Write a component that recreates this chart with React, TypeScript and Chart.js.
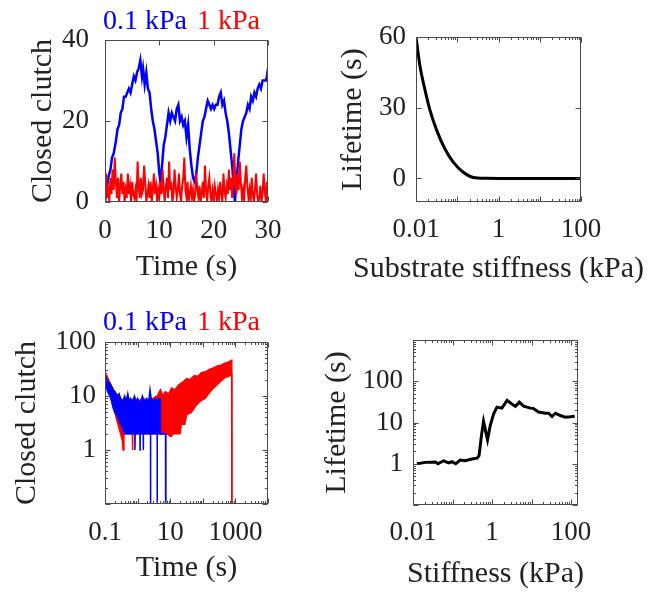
import React, { useEffect, useRef } from 'react';
import { Chart, registerables } from 'chart.js';

Chart.register(...registerables);

const W = 654;
const H = 597;
const FONT = "'Liberation Serif', 'Times New Roman', Times, serif";
const TEXT = '#222222';
const FRAME = '#4a4a4a';
const BLUE = '#0000ff';
const RED = '#ff0000';
const BLACK = '#000000';
const TICK_SIZE = 27;
const TITLE_SIZE = 30;
const HEAD_SIZE = 28;

// ---------- labels ----------
const LABEL_LOW = '0.1 kPa';
const LABEL_HIGH = '1 kPa';
const TITLE_CLUTCH = 'Closed clutch';
const TITLE_TIME = 'Time (s)';
const TITLE_LIFETIME = 'Lifetime (s)';
const TITLE_SUBSTRATE = 'Substrate stiffness (kPa)';
const TITLE_STIFF = 'Stiffness (kPa)';

// ---------- panel A: closed clutches vs time (linear) ----------
const A_X_TICKS = [0, 10, 20, 30];
const A_Y_TICKS = [0, 20, 40];
const A_BLUE_T = [0, 0.3, 0.6, 1.0, 1.3, 1.6, 2.0, 2.3, 2.6, 2.9, 3.2, 3.5, 3.8, 4.1, 4.4, 4.7, 5.0, 5.3, 5.6, 5.9, 6.2, 6.5, 6.8, 7.0, 7.3, 7.6, 7.9, 8.2, 8.5, 8.8, 9.1, 9.4, 9.7, 10.0, 10.2, 10.5, 10.8, 11.1, 11.4, 11.7, 12.0, 12.3, 12.6, 12.9, 13.2, 13.5, 13.8, 14.1, 14.4, 14.7, 15.0, 15.3, 15.6, 15.9, 16.2, 16.5, 16.8, 17.1, 17.4, 17.7, 18.0, 18.3, 18.6, 18.9, 19.2, 19.5, 19.8, 20.1, 20.4, 20.7, 21.0, 21.3, 21.6, 21.9, 22.2, 22.5, 22.8, 23.1, 23.4, 23.7, 23.9, 24.2, 24.5, 24.8, 25.1, 25.4, 25.7, 26.0, 26.3, 26.6, 26.9, 27.2, 27.5, 27.8, 28.1, 28.4, 28.7, 29.0, 29.3, 29.6, 29.8, 30.0];
const A_BLUE_Y = [0, 3, 6, 8, 11, 12, 15, 18, 19, 22, 23, 26, 26, 27, 28, 27, 29, 31, 30, 32, 33, 35, 31, 33, 29, 32, 28, 27, 23, 20, 18, 15, 12, 7, 5, 9, 14, 16, 19, 22, 20, 22, 21, 20, 23, 24, 20, 21, 19, 20, 16, 19, 13, 9, 6, 5, 7, 11, 14, 17, 20, 21, 23, 25, 24, 23, 24, 23, 24, 24, 26, 27, 24, 25, 22, 20, 17, 13, 9, 4, 0, 5, 10, 14, 18, 20, 21, 22, 24, 23, 26, 25, 27, 26, 28, 29, 28, 30, 30, 30, 31, 33];
const A_RED_DT = 0.2;
const A_RED_Y = [2, 7, 1, 4, 0, 6, 2, 8, 3, 11, 5, 1, 6, 0, 4, 7, 2, 5, 0, 3, 1, 7, 2, 4, 0, 5, 2, 1, 3, 0, 10, 4, 1, 6, 2, 3, 9, 5, 0, 2, 4, 1, 5, 0, 3, 7, 2, 4, 0, 3, 1, 5, 2, 8, 3, 0, 4, 6, 1, 10, 3, 5, 0, 2, 8, 4, 1, 3, 7, 2, 0, 4, 6, 11, 3, 1, 5, 0, 2, 4, 1, 3, 0, 2, 7, 3, 1, 4, 0, 2, 5, 1, 9, 3, 0, 4, 6, 2, 0, 3, 1, 4, 2, 0, 3, 1, 5, 2, 0, 7, 3, 1, 4, 2, 8, 3, 6, 1, 5, 12, 4, 2, 7, 3, 10, 5, 1, 3, 0, 6, 9, 4, 1, 3, 0, 6, 2, 0, 3, 7, 2, 0, 1, 4, 0, 2, 7, 3, 0, 5, 1];

// ---------- panel B: lifetime vs substrate stiffness ----------
const B_X_TICKS = [0.01, 1, 100];
const B_Y_TICKS = [0, 30, 60];
const B_X = [0.01, 0.0125, 0.0165, 0.0218, 0.0318, 0.05, 0.08, 0.14, 0.245, 0.5, 1, 10, 100];
const B_Y = [60, 47.6, 37.6, 29, 20.4, 12.6, 6.9, 2.6, 0.4, 0.05, 0, 0, 0];

// ---------- panel C: closed clutches vs time (log-log) ----------
const C_X_TICKS = [0.1, 10, 1000];
const C_Y_TICKS = [1, 10, 100];
const C_BLUE_UP_X = [0.1, 0.11, 0.12, 0.14, 0.16, 0.18, 0.2, 0.23, 0.27, 0.3, 0.35, 0.4, 0.45, 0.5, 0.55, 0.6, 0.7, 0.8, 0.9, 1.0, 1.2, 1.4, 1.6, 1.9, 2.2, 2.4, 2.6, 3.0, 3.5, 4.0, 4.6, 4.9, 5.0, 7.25, 7.26];
const C_BLUE_UP_Y = [24, 22, 19, 17, 15, 13, 12, 10, 11, 9, 8, 10, 8, 11, 8, 9, 8, 10, 8, 9, 7, 10, 8, 9, 8, 13, 9, 8, 9, 8, 9, 9, 2, 2, 0.1];
const C_BLUE_LO_X = [0.1, 0.11, 0.12, 0.14, 0.16, 0.18, 0.2, 0.23, 0.27, 0.3, 0.35, 0.4, 0.5, 0.6, 0.82, 0.83, 0.84, 1.18, 1.19, 1.2, 1.49, 1.5, 1.51, 2.49, 2.5, 2.51, 3.99, 4.0, 4.01, 4.9, 5.0, 7.25, 7.26];
const C_BLUE_LO_Y = [17, 15, 12, 10, 8, 6, 5, 4.5, 3.5, 3, 2.5, 2, 2, 2, 2, 1, 2, 2, 1, 2, 2, 1, 2, 2, 0.1, 2, 2, 0.1, 2, 2, 2, 2, 0.1];
const C_RED_UP_X = [0.1, 0.11, 0.12, 0.14, 0.16, 0.18, 0.2, 0.25, 0.3, 0.35, 0.45, 0.6, 0.8, 1, 1.5, 2, 3, 4, 5, 6, 7, 9, 11, 14, 18, 24, 32, 40, 55, 70, 90, 120, 160, 210, 280, 360, 450, 560, 680, 770, 775];
const C_RED_UP_Y = [28, 25, 22, 18, 15, 13, 12, 10, 9, 8, 9, 8, 9, 8, 9, 8, 9, 10, 13, 10, 12, 11, 14, 13, 16, 18, 21, 20, 24, 23, 27, 28, 31, 33, 36, 37, 40, 42, 44, 46, 0.1];
const C_RED_LO_X = [0.1, 0.11, 0.12, 0.14, 0.16, 0.18, 0.2, 0.25, 0.3, 0.34, 0.36, 0.38, 0.5, 0.69, 0.7, 0.71, 1, 2, 3, 5, 8, 10, 11, 12, 16, 20, 22, 28, 32, 45, 60, 82, 117, 150, 210, 300, 400, 480, 600, 700, 770, 775];
const C_RED_LO_Y = [21, 18, 15, 11, 8, 6, 5, 3, 2, 1.5, 1, 2, 2, 2, 1, 2, 2, 2, 2, 2, 2, 1.8, 1.8, 2, 2, 2, 3, 3, 4.5, 5, 6.5, 8, 9, 11, 14, 17, 20, 22, 23, 24, 25, 0.1];

// ---------- panel D: lifetime vs stiffness (log-log) ----------
const D_X_TICKS = [0.01, 1, 100];
const D_Y_TICKS = [1, 10, 100];
const D_X = [0.0126, 0.0205, 0.037, 0.043, 0.059, 0.08, 0.097, 0.12, 0.157, 0.21, 0.31, 0.42, 0.47, 0.54, 0.61, 0.67, 0.77, 0.9, 1.1, 1.33, 1.78, 2.4, 3.1, 3.9, 4.9, 6.3, 9.3, 11, 15, 22.5, 27, 33, 40, 53, 72, 96, 124];
const D_Y = [1.0, 1.08, 1.1, 1.0, 1.18, 1.05, 1.12, 1.0, 1.23, 1.18, 1.3, 1.37, 1.57, 4.8, 10.6, 7, 3.8, 8.4, 16.3, 23.6, 22.3, 34.5, 28.6, 24.6, 31.2, 25, 22.3, 22, 17.9, 16.8, 16.8, 14, 16.8, 14.8, 13.5, 13.8, 14.2];

// ---------- helpers ----------
const pts = (xs: number[], ys: number[]) => xs.map((x, i) => ({ x, y: ys[i] }));

const framePlugin = {
  id: 'matlabFrame',
  afterDatasetsDraw(chart: any) {
    const { ctx, chartArea: a } = chart;
    const xs = chart.scales.x;
    const ys = chart.scales.y;
    const L = Math.round(a.left) + 0.5;
    const R = Math.round(a.right) - 0.5;
    const T = Math.round(a.top) + 0.5;
    const B = Math.round(a.bottom) - 0.5;
    const marks = (scale: any) => {
      const res: { v: number; len: number }[] = [];
      if (scale.type === 'logarithmic') {
        const lo = Math.floor(Math.log10(scale.min));
        const hi = Math.ceil(Math.log10(scale.max));
        for (let e = lo; e <= hi; e++) {
          for (let k = 1; k <= 9; k++) {
            const v = k * Math.pow(10, e);
            if (v >= scale.min * 0.999 && v <= scale.max * 1.001) res.push({ v, len: k === 1 ? 5 : 2.5 });
          }
        }
      } else {
        scale.ticks.forEach((t: any) => res.push({ v: t.value, len: 5 }));
      }
      return res;
    };
    ctx.save();
    ctx.strokeStyle = FRAME;
    ctx.lineWidth = 1;
    ctx.beginPath();
    for (const m of marks(xs)) {
      const p = Math.round(xs.getPixelForValue(m.v)) + 0.5;
      ctx.moveTo(p, B); ctx.lineTo(p, B - m.len);
      ctx.moveTo(p, T); ctx.lineTo(p, T + m.len);
    }
    for (const m of marks(ys)) {
      const p = Math.round(ys.getPixelForValue(m.v)) + 0.5;
      ctx.moveTo(L, p); ctx.lineTo(L + m.len, p);
      ctx.moveTo(R, p); ctx.lineTo(R - m.len, p);
    }
    ctx.stroke();
    ctx.strokeRect(L, T, R - L, B - T);
    ctx.restore();
  },
};

// axis titles drawn without width squeezing (MATLAB titles may overhang the axes box)
const makeTitles = (xText: string, xTitleY: number, yText: string, yTitleX: number) => ({
  id: 'axisTitles',
  afterDraw(chart: any) {
    const { ctx, chartArea: a } = chart;
    ctx.save();
    ctx.font = `${TITLE_SIZE}px ${FONT}`;
    ctx.fillStyle = TEXT;
    ctx.textAlign = 'center';
    ctx.textBaseline = 'middle';
    ctx.fillText(xText, (a.left + a.right) / 2, xTitleY);
    ctx.translate(yTitleX, (a.top + a.bottom) / 2);
    ctx.rotate(-Math.PI / 2);
    ctx.fillText(yText, 0, 0);
    ctx.restore();
  },
});

const makeHeader = (x: number, y: number) => ({
  id: 'kpaHeader',
  afterDraw(chart: any) {
    const ctx = chart.ctx;
    ctx.save();
    ctx.font = `${HEAD_SIZE}px ${FONT}`;
    ctx.textBaseline = 'middle';
    ctx.textAlign = 'left';
    ctx.fillStyle = BLUE;
    ctx.fillText(LABEL_LOW, x, y);
    const w = ctx.measureText(LABEL_LOW).width;
    ctx.fillStyle = RED;
    ctx.fillText(LABEL_HIGH, x + w + 10, y);
    ctx.restore();
  },
});

type AxisSpec = {
  type: 'linear' | 'logarithmic';
  min: number;
  max: number;
  ticks: number[];
  tickPad: number;
  size: number;
};

const axis = (s: AxisSpec, horizontal: boolean) => ({
  type: s.type,
  position: horizontal ? 'bottom' : 'left',
  min: s.min,
  max: s.max,
  grid: { display: false, drawTicks: false },
  border: { display: false },
  ticks: {
    color: TEXT,
    font: { family: FONT, size: TICK_SIZE },
    padding: s.tickPad,
    autoSkip: false,
    maxRotation: 0,
    callback: (v: any) => String(v),
  },
  title: { display: false },
  afterBuildTicks: (sc: any) => { sc.ticks = s.ticks.map((v) => ({ value: v })); },
  afterFit: (sc: any) => {
    if (horizontal) sc.height = s.size;
    else sc.width = s.size;
  },
});

const baseOptions = (pad: { top: number; right: number }, x: any, y: any) => ({
  animation: false,
  responsive: false,
  maintainAspectRatio: false,
  devicePixelRatio: 1,
  layout: { padding: { left: 0, top: pad.top, right: pad.right, bottom: 0 } },
  plugins: { legend: { display: false }, tooltip: { enabled: false }, title: { display: false } },
  elements: { point: { radius: 0 }, line: { tension: 0 } },
  scales: { x, y },
});

const lineDs = (data: any[], color: string, width: number, extra: any = {}) => ({
  data,
  borderColor: color,
  backgroundColor: color,
  borderWidth: width,
  pointRadius: 0,
  fill: false,
  ...extra,
});

// ---------- chart configs ----------
const configA = () => ({
  type: 'line',
  data: {
    datasets: [
      lineDs(A_RED_Y.map((y, i) => ({ x: i * A_RED_DT, y })), RED, 2),
      lineDs(pts(A_BLUE_T, A_BLUE_Y), BLUE, 2.5),
    ],
  },
  options: baseOptions(
    { top: 40, right: W - 268 },
    axis({ type: 'linear', min: 0, max: 30, ticks: A_X_TICKS, tickPad: 13, size: H - 202 }, true),
    axis({ type: 'linear', min: 0, max: 40, ticks: A_Y_TICKS, tickPad: 16, size: 105 }, false),
  ),
  plugins: [framePlugin, makeTitles(TITLE_TIME, 267, TITLE_CLUTCH, 43), makeHeader(103, 22)],
});

const configB = () => ({
  type: 'line',
  data: {
    datasets: [lineDs(pts(B_X, B_Y), BLACK, 3, { cubicInterpolationMode: 'monotone' })],
  },
  options: baseOptions(
    { top: 37, right: W - 581 },
    axis({ type: 'logarithmic', min: 0.01, max: 100, ticks: B_X_TICKS, tickPad: 12, size: H - 202 }, true),
    axis({ type: 'linear', min: -10, max: 60, ticks: B_Y_TICKS, tickPad: 10, size: 416 }, false),
  ),
  plugins: [framePlugin, makeTitles(TITLE_SUBSTRATE, 269, TITLE_LIFETIME, 353)],
});

const configC = () => ({
  type: 'line',
  data: {
    datasets: [
      lineDs(pts(C_BLUE_UP_X, C_BLUE_UP_Y), BLUE, 1.5, { fill: '+1' }),
      lineDs(pts(C_BLUE_LO_X, C_BLUE_LO_Y), BLUE, 1.5),
      lineDs(pts(C_RED_UP_X, C_RED_UP_Y), RED, 1.5, { fill: '+1' }),
      lineDs(pts(C_RED_LO_X, C_RED_LO_Y), RED, 1.5),
    ],
  },
  options: baseOptions(
    { top: 342, right: W - 268 },
    axis({ type: 'logarithmic', min: 0.1, max: 10000, ticks: C_X_TICKS, tickPad: 13, size: H - 504 }, true),
    axis({ type: 'logarithmic', min: 0.1, max: 100, ticks: C_Y_TICKS, tickPad: 9, size: 105 }, false),
  ),
  plugins: [framePlugin, makeTitles(TITLE_TIME, 568, TITLE_CLUTCH, 27), makeHeader(103, 323)],
});

const configD = () => ({
  type: 'line',
  data: {
    datasets: [lineDs(pts(D_X, D_Y), BLACK, 3)],
  },
  options: baseOptions(
    { top: 340, right: W - 578 },
    axis({ type: 'logarithmic', min: 0.01, max: 150, ticks: D_X_TICKS, tickPad: 12, size: H - 505 }, true),
    axis({ type: 'logarithmic', min: 0.1, max: 1000, ticks: D_Y_TICKS, tickPad: 10, size: 413 }, false),
  ),
  plugins: [framePlugin, makeTitles(TITLE_STIFF, 574, TITLE_LIFETIME, 337)],
});

function Panel({ build }: { build: () => any }) {
  const ref = useRef<HTMLCanvasElement | null>(null);
  useEffect(() => {
    if (!ref.current) return;
    const chart = new Chart(ref.current, build());
    return () => chart.destroy();
  }, [build]);
  return (
    <canvas
      ref={ref}
      width={W}
      height={H}
      style={{ position: 'absolute', left: 0, top: 0, width: W, height: H }}
    />
  );
}

export default function App() {
  return (
    <div style={{ position: 'absolute', left: 0, top: 0, width: W, height: H, background: '#ffffff' }}>
      <Panel build={configA} />
      <Panel build={configB} />
      <Panel build={configC} />
      <Panel build={configD} />
    </div>
  );
}
